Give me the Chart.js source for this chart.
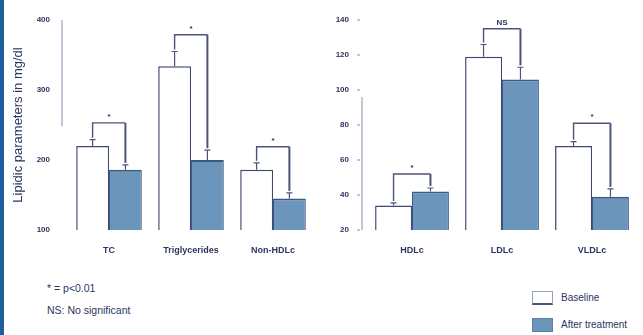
<!DOCTYPE html>
<html>
<head>
<meta charset="utf-8">
<script src="https://cdn.jsdelivr.net/npm/chart.js@4/dist/chart.umd.min.js"></script>
<style>
  html, body { margin: 0; padding: 0; background: #fff; }
  #wrap { position: relative; width: 643px; height: 335px; overflow: hidden;
          font-family: "Liberation Sans", Arial, sans-serif; color: #2c3560; }
  #edge { position: absolute; left: 0; top: 0; width: 4px; height: 335px; background: #1f5e9e; }
  #c1 { position: absolute; left: 0; top: 0; }
  #c2 { position: absolute; left: 330px; top: 0; }
  .note { position: absolute; left: 47px; font-size: 10.5px; line-height: 12px; white-space: nowrap; }
  .key { position: absolute; left: 532px; width: 21px; height: 14px; box-sizing: border-box; }
  .keytxt { position: absolute; left: 561px; font-size: 10px; line-height: 12px; white-space: nowrap; }
</style>
</head>
<body>
<div id="wrap">
  <canvas id="c1" width="330" height="260"></canvas>
  <canvas id="c2" width="313" height="260"></canvas>
  <div class="note" style="top:282px">* = p&lt;0.01</div>
  <div class="note" style="top:304px">NS: No significant</div>
  <div class="key" style="top:291px;background:#fff;border:1px solid #9aa3bd;border-bottom:2px solid #4a5478;"></div>
  <div class="keytxt" style="top:292px">Baseline</div>
  <div class="key" style="top:318px;background:#6b95ba;border:1px solid #5b82a6;"></div>
  <div class="keytxt" style="top:319px">After treatment</div>
  <div id="edge"></div>
</div>
<script>
// Lipid panel: total cholesterol, triglycerides, non-HDL (mg/dl)
const categoriesLeft   = ['TC', 'Triglycerides', 'Non-HDLc'];
const baselineLeft     = [220, 334, 186];
const afterLeft        = [186, 200, 145];
const baselineErrLeft  = [9, 21, 10];
const afterErrLeft     = [7, 14, 8];
const bracketLeft      = [253, 379, 219];
const sigLeft          = ['*', '*', '*'];
const ticksLeft        = [100, 200, 300, 400];

// Lipoprotein fractions (mg/dl)
const categoriesRight  = ['HDLc', 'LDLc', 'VLDLc'];
const baselineRight    = [34, 119, 68];
const afterRight       = [42, 106, 39];
const baselineErrRight = [1.5, 7, 2.5];
const afterErrRight    = [2, 7, 4.5];
const bracketRight     = [52, 135, 81];
const sigRight         = ['*', 'NS', '*'];
const ticksRight       = [20, 40, 60, 80, 100, 120, 140];

const INK = '#2c3560';
const LINE = '#4b5478';
const FONT = '"Liberation Sans", Arial, sans-serif';

// Draws error bars, significance brackets and the partial axis rule.
const sigPlugin = {
  id: 'sig',
  afterDatasetsDraw(chart, args, o) {
    const ctx = chart.ctx;
    const y = chart.scales.y;
    const area = chart.chartArea;
    ctx.save();

    // axis rule
    const ax = area.left - o.axisGap;
    ctx.lineWidth = 1;
    ctx.strokeStyle = '#8890ad';
    ctx.beginPath();
    ctx.moveTo(ax, y.getPixelForValue(o.axisFrom));
    ctx.lineTo(ax, y.getPixelForValue(o.axisTo));
    ctx.stroke();
    if (o.tickMarks) {
      y.ticks.forEach(t => {
        const py = y.getPixelForValue(t.value);
        ctx.beginPath();
        ctx.moveTo(ax - 5, py);
        ctx.lineTo(ax - 2, py);
        ctx.stroke();
      });
    }

    // error bars
    ctx.strokeStyle = LINE;
    ctx.lineWidth = 1.2;
    const tops = [];
    chart.data.datasets.forEach((ds, di) => {
      const meta = chart.getDatasetMeta(di);
      tops[di] = [];
      meta.data.forEach((bar, j) => {
        const v = ds.data[j];
        const e = o.errors[di][j];
        const top = y.getPixelForValue(v + e);
        tops[di][j] = { x: bar.x, y: top };
        ctx.beginPath();
        ctx.moveTo(bar.x, bar.y);
        ctx.lineTo(bar.x, top);
        ctx.moveTo(bar.x - 3, top);
        ctx.lineTo(bar.x + 3, top);
        ctx.stroke();
      });
    });

    // significance brackets
    ctx.fillStyle = INK;
    ctx.font = 'bold 8px ' + FONT;
    ctx.textAlign = 'center';
    ctx.textBaseline = 'bottom';
    o.brackets.forEach((lv, j) => {
      const by = y.getPixelForValue(lv);
      const a = tops[0][j], b = tops[1][j];
      ctx.lineWidth = 1.4;
      ctx.beginPath();
      ctx.moveTo(a.x, a.y - 2);
      ctx.lineTo(a.x, by);
      ctx.lineTo(b.x, by);
      ctx.stroke();
      ctx.lineWidth = 2;
      ctx.beginPath();
      ctx.moveTo(b.x, by);
      ctx.lineTo(b.x, b.y - 2);
      ctx.stroke();
      ctx.fillText(o.labels[j], (a.x + b.x) / 2, by - 2);
    });
    ctx.restore();
  }
};

function makeChart(id, cats, base, after, bErr, aErr, brackets, labels, tickVals, cfg) {
  return new Chart(document.getElementById(id), {
    type: 'bar',
    data: {
      labels: cats,
      datasets: [
        { label: 'Baseline', data: base, backgroundColor: '#ffffff',
          borderColor: '#3d4a75', borderWidth: { top: 1.5, left: 1.5, right: 1.2, bottom: 0 },
          borderSkipped: 'bottom', barPercentage: 1, categoryPercentage: cfg.catPct },
        { label: 'After treatment', data: after, backgroundColor: '#6b95ba',
          borderColor: '#3a5a80', borderWidth: { top: 2, left: 1, right: 1, bottom: 0 },
          borderSkipped: 'bottom', barPercentage: 1, categoryPercentage: cfg.catPct }
      ]
    },
    options: {
      responsive: false,
      animation: false,
      layout: { padding: { top: 20, right: cfg.padRight, bottom: 0, left: 0 } },
      plugins: {
        legend: { display: false },
        tooltip: { enabled: false },
        sig: {
          errors: [bErr, aErr], brackets, labels,
          axisGap: cfg.axisGap, axisFrom: cfg.axisFrom, axisTo: cfg.axisTo,
          tickMarks: cfg.tickMarks
        }
      },
      scales: {
        x: {
          grid: { display: false }, border: { display: false },
          ticks: { color: INK, padding: 7, maxRotation: 0,
                   font: { family: FONT, size: 9, weight: 'bold' } },
          afterFit(s) { s.height = 30; }
        },
        y: {
          min: tickVals[0], max: tickVals[tickVals.length - 1],
          grid: { display: false }, border: { display: false },
          afterBuildTicks(s) { s.ticks = tickVals.map(v => ({ value: v })); },
          ticks: { color: INK, padding: cfg.tickPad,
                   font: { family: FONT, size: 8, weight: 'bold' } },
          title: cfg.title ? {
            display: true, text: cfg.title, color: INK,
            padding: { top: 11, bottom: 0 },
            font: { family: FONT, size: 13 }
          } : { display: false },
          afterFit(s) { s.width = cfg.axisWidth; }
        }
      }
    },
    plugins: [sigPlugin]
  });
}

makeChart('c1', categoriesLeft, baselineLeft, afterLeft, baselineErrLeft, afterErrLeft,
  bracketLeft, sigLeft, ticksLeft,
  { catPct: 0.8, padRight: 16, axisWidth: 68, tickPad: 10, axisGap: 6,
    axisFrom: 400, axisTo: 248, tickMarks: false, title: 'Lipidic parameters in mg/dl' });

makeChart('c2', categoriesRight, baselineRight, afterRight, baselineErrRight, afterErrRight,
  bracketRight, sigRight, ticksRight,
  { catPct: 0.82, padRight: 6, axisWidth: 37, tickPad: 10, axisGap: 5,
    axisFrom: 96, axisTo: 20, tickMarks: true, title: null });
</script>
</body>
</html>
